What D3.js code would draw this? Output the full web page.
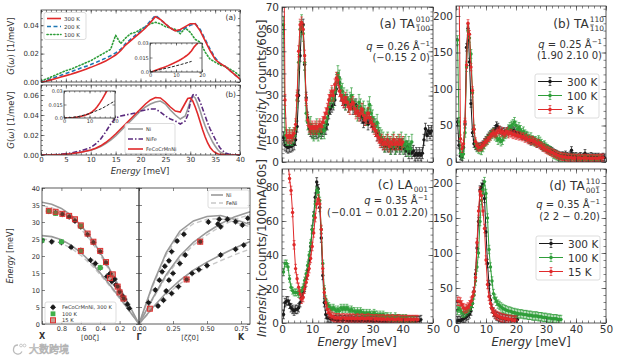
<!DOCTYPE html>
<html><head><meta charset="utf-8">
<script src="https://cdn.jsdelivr.net/npm/d3@7"></script>
<style>body{margin:0;background:#fff}svg{display:block}</style>
</head><body>
<script>
// ---------------- DATA ----------------
// Left (a): experimental phonon DOS
const dosE = [0,1,2,3,4,5,6,7,8,9,10,11,12,13,14,15,16,17,18,19,20,21,22,23,24,25,26,27,28,29,30,31,32,33,34,35,36,37,38,39,40];
const g300 = [0,0.0005,0.0015,0.0025,0.0035,0.0045,0.0055,0.0066,0.0078,0.009,0.0103,0.0117,0.0132,0.0148,0.0168,0.019,0.022,0.026,0.029,0.032,0.035,0.038,0.042,0.046,0.044,0.041,0.038,0.036,0.037,0.039,0.041,0.041,0.036,0.029,0.022,0.016,0.013,0.011,0.008,0.005,0.002];
const g200 = [0,0.001,0.0022,0.0035,0.0047,0.006,0.0072,0.0085,0.0098,0.011,0.0123,0.0137,0.0152,0.0168,0.0185,0.0205,0.023,0.027,0.03,0.033,0.036,0.039,0.043,0.047,0.044,0.041,0.038,0.036,0.036,0.038,0.04,0.041,0.037,0.03,0.023,0.017,0.013,0.011,0.008,0.005,0.002];
const g100 = [0.001,0.002,0.0035,0.005,0.0065,0.008,0.009,0.0105,0.012,0.0135,0.015,0.017,0.019,0.021,0.023,0.033,0.027,0.031,0.034,0.035,0.037,0.039,0.041,0.042,0.041,0.039,0.038,0.037,0.034,0.038,0.035,0.03,0.028,0.021,0.016,0.014,0.012,0.011,0.009,0.007,0.004];
const debyeAE = [0,4,8,12,16];
const debyeA = [0,0.0025,0.005,0.0078,0.011];
// Left (b): calculated DOS
const thE = [0,2,4,6,8,10,11,12,13,14,15,16,17,18,19,20,21,22,23,24,25,26,27,28,29,29.5,30,30.5,31,31.5,32,32.5,33,33.5,34,34.5,35,35.5,36,37,38,40];
const dosNi = [0,0.0001,0.0005,0.0013,0.0027,0.0048,0.0064,0.0085,0.0115,0.015,0.019,0.024,0.029,0.034,0.039,0.044,0.048,0.051,0.053,0.054,0.051,0.045,0.04,0.036,0.039,0.046,0.054,0.059,0.057,0.051,0.044,0.036,0.029,0.023,0.018,0.013,0.009,0.0055,0.003,0.0008,0.0002,0];
const dosNiFe = [0,0.0002,0.0008,0.002,0.0042,0.0075,0.011,0.016,0.023,0.031,0.037,0.039,0.04,0.041,0.042,0.044,0.045,0.046,0.046,0.043,0.039,0.036,0.034,0.031,0.034,0.04,0.052,0.06,0.061,0.058,0.053,0.046,0.039,0.032,0.026,0.021,0.016,0.011,0.007,0.002,0.0005,0];
const dosHEA = [0,0.0001,0.0005,0.0013,0.0027,0.005,0.0068,0.0092,0.0125,0.0165,0.021,0.026,0.031,0.036,0.041,0.046,0.051,0.055,0.0575,0.057,0.053,0.048,0.044,0.043,0.052,0.0565,0.057,0.054,0.048,0.041,0.033,0.025,0.018,0.012,0.0075,0.0045,0.0025,0.0013,0.0006,0.0001,0,0];
const debyeBE = [0,5,10,15,20];
const debyeB = [0,0.0012,0.0048,0.0108,0.019];

// Dispersion
const zetaL = [0,0.1,0.2,0.3,0.4,0.5,0.6,0.7,0.8,0.9,1];
const niLA_L = [0,5.5,10.8,16,21,25.5,29,32,34,35.2,35.8];
const niTA_L = [0,3.9,7.8,11.5,15,18.3,21,23.2,24.8,25.7,26];
const feniLA_L = [0,5.2,10.4,15.5,20.3,24.6,28,31,33,34.2,34.8];
const feniTA_L = [0,3.8,7.5,11.1,14.5,17.6,20.2,22.3,23.8,24.7,25];
const zetaR = [0,0.1,0.2,0.3,0.4,0.5,0.6,0.7,0.8,0.82];
const niLA_R = [0,11.5,21,27.3,30.3,31.6,31.9,30.8,29.5,29.3];
const niTA1_R = [0,7.5,14.5,20,24,27,29.5,31.5,32.8,33];
const niTA2_R = [0,4.8,9.2,12.8,15.8,18.2,20.3,22.3,24,24.3];
const feniLA_R = [0,11,20.4,26.5,29.5,30.8,31,30,28.8,28.6];
const feniTA1_R = [0,7.2,14,19.3,23.2,26.2,28.7,30.7,32,32.2];
const feniTA2_R = [0,4.5,8.6,11.8,14.6,16.8,18.6,20.3,21.8,22];
const d300L = [[1,24.5],[0.93,33.2],[0.9,24.2],[0.86,32.7],[0.79,32.3],[0.8,24],[0.72,31.5],[0.7,22.6],[0.66,30.3],[0.6,28.6],[0.6,21.6],[0.53,26.3],[0.5,18.8],[0.47,24],[0.45,17.8],[0.4,21.3],[0.4,16.5],[0.34,18],[0.33,14],[0.3,14.8],[0.28,12.5],[0.25,13.2],[0.24,11.5],[0.22,11],[0.2,9.5],[0.17,8.2],[0.15,7.3],[0.12,5.8],[0.1,4.6]];
const d100L = [[1,24.6],[0.93,33.2],[0.86,32.5],[0.8,24.2],[0.6,28.8],[0.6,21.6],[0.4,16.6]];
const d15L = [[0.93,33.3],[0.86,33],[0.79,32.4],[0.72,31.8],[0.66,30.8],[0.6,29],[0.6,21.5],[0.53,26.6],[0.47,24.2],[0.4,21.5],[0.34,18.2],[0.3,13.5],[0.27,14.6],[0.22,11],[0.2,9.3],[0.16,7.5]];
const d300R = [[0.07,6.3],[0.12,10],[0.15,12.9],[0.17,15.4],[0.19,17],[0.22,18.6],[0.24,21.3],[0.28,24.4],[0.33,26.4],[0.51,30],[0.58,29.4],[0.59,30.8],[0.65,30.8],[0.71,30.1],[0.76,29.1],[0.8,31.1],[0.2,9.7],[0.22,12.9],[0.25,14.9],[0.3,17.8],[0.34,20.3],[0.45,24.2],[0.6,28.6],[0.14,5.3],[0.18,7],[0.24,9],[0.29,11],[0.35,13.1],[0.39,14.9],[0.44,16],[0.5,17.2],[0.6,20.3],[0.71,22],[0.77,23.2]];
const d15R = [[0.08,4.5],[0.35,13.1],[0.45,24.2]];

// Right: INS spectra, energies shared by all four panels
const energies = [0.5,1,1.5,2,2.5,3,3.5,4,4.5,5,5.5,6,6.5,7,7.5,8,8.5,9,9.5,10,10.5,11,11.5,12,12.5,13,13.5,14,14.5,15,15.5,16,16.5,17,17.5,18,18.5,19,19.5,20,20.5,21,21.5,22,22.5,23,23.5,24,24.5,25,25.5,26,26.5,27,27.5,28,28.5,29,29.5,30,30.5,31,31.5,32,32.5,33,33.5,34,34.5,35,35.5,36,36.5,37,37.5,38,38.5,39,39.5,40,40.5,41,41.5,42,42.5,43,43.5,44,44.5,45,45.5,46,46.5,47,47.5,48,48.5,49,49.5];
const taA_300 = [11,7.5,7,6.5,7,7,7.5,8,10,16,30,48,61,62,44,29,20,15,14,13.5,13,14,13,13.5,14,13,14,15,15,17,22,24,25,26,28,33,38,36,30,28,27,26,28,25,26,27,24,25,26,23,22,21,20,18,19,20,17,20,18,16,17,14,12,13,10,9,8,7,8,7,8,6,7,8,6,7,8,6,7,8,6,5,7,4,6,4,5,3,4,3,4,3,4,10,15,12,14,13,14];
const taA_100 = [62,12,11,11,12,11,11,12,15,28,45,60,63,58,45,22,18,16,17,14,13,14,16,13,15,14,16,14,18,20,25,28,30,28,32,36,40,38,34,32,30,27,29,26,28,30,27,25,24,22,27,25,23,24,22,20,24,26,22,20,17,16,18,14,12,11,10,8,9,10,8,7,9,10,7,8,9,8,10,7,8,9,6,8,6,9];
const taA_3 = [120,28,12,11,12,11,12,13,17,30,50,62,63,60,48,28,19,16,15,16,15,16,15,16,17,16,18,20,22,24,28,30,32,30,35,38,37,32,30,28,27,29,27,25,24,26,27,24,22,23,21,22,24,21,19,20,22,20,18,17,15,14,12,11,9,10,8,9,8,10,7,9,8,10,8,9,8,10,8,9];
const taB_300 = [55,23,8,7,20,52,157,183,137,80,40,25,22,20,21,21,22,24,27,30,33,36,38,40,42,45,50,48,44,43,41,42,40,42,44,45,42,44,42,40,39,41,38,36,37,34,35,32,30,28,30,29,27,25,26,24,22,20,21,19,18,17,16,15,13,12,11,10,9,8,9,8,10,8,7,9,16,8,7,8,6,7,8,6,7,12,6,7,6,8,7,6,7,6,7,5,6,7,6];
const taB_100 = [167,55,12,9,11,40,130,180,170,148,95,45,25,20,18,17,16,20,24,28,30,33,36,38,40,36,34,30,32,28,30,35,38,40,45,48,50,52,55,50,45,48,44,40,42,38,36,35,32,34,30,28,29,27,30,28,25,22,23,20,18,16,15,13,11,10,9,8,7,6,6,5,6,5,4,5,4,5,4,5,3,4,3,4,3,4,3,3,4,3,4,3,4,3,4,3];
const taB_3 = [260,260,32,18,25,55,133,190,175,130,98,45,28,22,20,20,21,23,26,28,30,33,35,38,40,38,40,42,44,40,42,38,40,42,38,40,39,37,38,36,37,35,36,34,35,32,33,30,31,29,30,28,27,25,26,23,22,20,19,17,16,15,14,13,12,11,10,9,8,8,7,7,7,6,6,6,6,5,6,5,5,6,5,5,5,6,5,5,5,5,5,5,5,5,5,6,5,6];
const laC_300 = [5,12,13,13,11,9,8,7,8,8,9,12,15,18,21,26,31,37,45,55,63,74,83,79,68,50,28,12,5,3,3,2.5,2,2,2,2,1.5,2,2,1.5,2,2,1.5,2,1.5,2,1.5,1.5,2,1.5,1.5,1.5,2,1.5,1.5,1.5,1.5,1.5,1.5,1.5,1.2,1.5,1.5,1.2,1.5,1.2,1.2,1.5,1.2,1.2,1.5,1.2,1.5,1.2,1.5,2,1.5,1.2,1.5,1.5,1.2,1.5,1.5,1.5,1.5,1.5,1.5,1.5,1.5,1.5,1.5,2];
const laC_100 = [30,35,35,33,26,21,19,18,18,18,17,18,19,21,25,29,34,40,47,55,63,70,78,77,72,55,35,20,14,11,10,9,8,9,8,7,8,7,9,8,9,8,9,8,7,8,7,7,6,7,6,7,6,6,5,6,5,6,5,5,6,5,5,4,5,4,5,4,4,4,3,4,3,3,4,3,3,3,2,3,2,3,2,2,2,2,2,2];
const laC_15 = [250,150,110,95,85,78,65,46,32,26,21,17,14,15,20,24,28,32,38,45,53,62,70,73,70,55,32,18,12,8,6,5,4,3.5,3,3,3,3,2.5,3,3,2.5,3,2.5,3,2.5,3,2.5,2.5,3,2.5,2.5,3,2.5,2.5,2.5,3,2.5,2.5,2.5,2,2.5,2.5,2,2.5,2,2.5,2,2,2.5,2,2,2.5,2,2,2,2.5,2,2,2,2,2,2,2,2,2,2,2,2,2];
const taD_300 = [3,4,3,5,6,7,9,11,13,17,28,45,70,107,145,190,194,198,178,130,85,55,33,21,15,12,10,9,8,7,7,6,6,5,5,5,5,4,5,4,5];
const taD_100 = [18,21,18,15,14,15,17,19,21,24,28,40,60,80,100,145,175,190,202,185,150,105,80,60,42,35,31,27,25,23,21,20,19,18,17,17,16,15,15,14,14,13,13,13,12,12,12,11,11,11,10,10,10,10,9,9,9,8,8,8,7,7,7,6,6,6,6,5,5,5];
const taD_15 = [31,31,30,26,22,20,21,23,26,31,38,45,65,115,160,188,182,160,135,90,55,38,28,20,16,13,11,10,9,8,7,7,6,6,5,5,5,4,4,4];
// typical error bar half-widths [high T, mid T, low T]
const errA = [2.5,3.5,2.5], errB = [5,6,5], errC = [2.5,2,2.5], errD = [6,6,6];

// tick values
const ticksDosX = [0,5,10,15,20,25,30,35,40];
const ticksE = [0,10,20,30,40,50];

// ---------------- DRAWING ----------------
const FONT = "DejaVu Sans, sans-serif";
const INK = "#333";
const RED = "#e02a2b", GREEN = "#2f9e3a", BLACK = "#1a1a1a", BLUE = "#1f77b4", PURPLE = "#5a2a7e", GRAY = "#9a9a9a";
const svg = d3.select("body").append("svg").attr("width",627).attr("height",356).style("font-family",FONT);
let clipN = 0;

function frame(o){
  const x = d3.scaleLinear().domain(o.xd).range([o.x0,o.x1]);
  const y = d3.scaleLinear().domain(o.yd).range([o.y1,o.y0]);
  const g = svg.append("g");
  if (o.bg) g.append("rect").attr("x",o.x0).attr("y",o.y0).attr("width",o.x1-o.x0).attr("height",o.y1-o.y0).attr("fill","#fff");
  const id = "clip"+(clipN++);
  svg.append("clipPath").attr("id",id).append("rect").attr("x",o.x0).attr("y",o.y0).attr("width",o.x1-o.x0).attr("height",o.y1-o.y0);
  const plot = g.append("g").attr("clip-path",`url(#${id})`);
  const M = o.maj||3.5, m = o.min||2, fs = o.fs||7;
  function ax(gen, scale, vals, size, fmt, tr){
    if(!vals) return;
    const a = gen(scale).tickValues(vals).tickSizeInner(-size).tickSizeOuter(0).tickPadding(o.pad||2).tickFormat(fmt||(()=>""));
    const s = g.append("g").attr("transform",tr).call(a);
    s.select(".domain").remove();
    s.selectAll("line").attr("stroke",INK).attr("stroke-width",0.6);
    s.selectAll("text").attr("font-size",fs).attr("fill",INK).attr("font-family",FONT);
    s.selectAll("text").filter(function(){return !this.textContent;}).remove();
  }
  ax(d3.axisBottom,x,o.xMaj,M,o.xFmt,`translate(0,${o.y1})`);
  ax(d3.axisBottom,x,o.xMin,m,null,`translate(0,${o.y1})`);
  ax(d3.axisTop,x,o.xMaj,M,null,`translate(0,${o.y0})`);
  ax(d3.axisTop,x,o.xMin,m,null,`translate(0,${o.y0})`);
  ax(d3.axisLeft,y,o.yMaj,M,o.yFmt,`translate(${o.x0},0)`);
  ax(d3.axisLeft,y,o.yMin,m,null,`translate(${o.x0},0)`);
  ax(d3.axisRight,y,o.yMaj,M,null,`translate(${o.x1},0)`);
  ax(d3.axisRight,y,o.yMin,m,null,`translate(${o.x1},0)`);
  g.append("rect").attr("x",o.x0).attr("y",o.y0).attr("width",o.x1-o.x0).attr("height",o.y1-o.y0)
    .attr("fill","none").attr("stroke",INK).attr("stroke-width",0.8);
  return {x,y,g,plot};
}
function curve(p, xs, ys, color, w, dash, cap){
  const pts = ys.map((v,i)=>[xs[i],v]);
  const path = p.plot.append("path").attr("d",d3.line().x(d=>p.x(d[0])).y(d=>p.y(d[1]))(pts))
    .attr("fill","none").attr("stroke",color).attr("stroke-width",w);
  if(dash) path.attr("stroke-dasharray",dash);
  if(cap) path.attr("stroke-linecap",cap);
  return path;
}
function txt(x,y,s,fs,opt={}){
  const t = svg.append("text").attr("x",x).attr("y",y).attr("font-size",fs).attr("fill",opt.fill||INK)
    .attr("font-family",opt.family||FONT).attr("text-anchor",opt.anchor||"start");
  if(opt.rot) t.attr("transform",`rotate(${opt.rot},${x},${y})`);
  if(opt.weight) t.attr("font-weight",opt.weight);
  if(opt.style) t.attr("font-style",opt.style);
  if(typeof s === "string") t.text(s); else s(t);
  return t;
}
function legendBox(x,y,w,h){
  svg.append("rect").attr("x",x).attr("y",y).attr("width",w).attr("height",h).attr("rx",2)
    .attr("fill","#fff").attr("fill-opacity",0.85).attr("stroke","#cfcfcf").attr("stroke-width",0.7);
}

// ===== Left (a) =====
const pa = frame({x0:41,x1:240,y0:10,y1:82,xd:[0,40],yd:[0,0.0507],xMaj:ticksDosX,xMin:d3.range(0,41,1),
  yMaj:[0,0.02,0.04],yMin:d3.range(0,0.051,0.005),yFmt:d3.format(".2f"),fs:7});
curve(pa,dosE,g100,GREEN,1.6,"1.2,2.2","round");
curve(pa,dosE,g200,BLUE,1.6,"4,2.5");
curve(pa,dosE,g300,RED,1.6);
txt(236,20,"(a)",7.5,{anchor:"end"});
legendBox(44,12.5,42,27);
[["300 K",RED,null],["200 K",BLUE,"4,2.5"],["100 K",GREEN,"1.2,2.2"]].forEach((d,i)=>{
  const yy = 18.5+i*8;
  const l = svg.append("line").attr("x1",47).attr("x2",61).attr("y1",yy).attr("y2",yy).attr("stroke",d[1]).attr("stroke-width",1.6);
  if(d[2]) l.attr("stroke-dasharray",d[2]);
  if(i==2) l.attr("stroke-linecap","round");
  txt(64,yy+2,d[0],5.5);
});
// inset (a)
const ia = frame({x0:150,x1:202,y0:43,y1:72,xd:[0,20],yd:[0,0.03],xMaj:[0,10,20],xMin:d3.range(0,21,2),
  yMaj:[0,0.015,0.03],xFmt:d3.format("d"),yFmt:v=>v===0?"0.0":(v===0.015?"0.015":"0.03"),fs:5,maj:2.5,min:1.5,pad:1.2,bg:true});
curve(ia,dosE,g300,RED,1.6);
curve(ia,debyeAE,debyeA,"#222",1,"3,1.5");

// ===== Left (b) =====
const pb = frame({x0:41,x1:240,y0:85,y1:155,xd:[0,40],yd:[0,0.07],xMaj:ticksDosX,xMin:d3.range(0,41,1),
  yMaj:[0,0.02,0.04,0.06],yMin:d3.range(0,0.071,0.005),yFmt:d3.format(".2f"),xFmt:d3.format("d"),fs:7});
curve(pb,thE,dosNi,GRAY,1.6);
curve(pb,thE,dosNiFe,PURPLE,1.6,"5,2,1.5,2");
curve(pb,thE,dosHEA,RED,1.6);
txt(236,97,"(b)",7.5,{anchor:"end"});
legendBox(125,123.5,50,30);
[["Ni",GRAY,null],["NiFe",PURPLE,"5,2,1.5,2"],["FeCoCrMnNi",RED,null]].forEach((d,i)=>{
  const yy = 129+i*10;
  const l = svg.append("line").attr("x1",128).attr("x2",143).attr("y1",yy).attr("y2",yy).attr("stroke",d[1]).attr("stroke-width",1.6);
  if(d[2]) l.attr("stroke-dasharray",d[2]);
  txt(146,yy+2,d[0],5);
});
const ib = frame({x0:64,x1:115,y0:91,y1:118,xd:[0,20],yd:[0,0.03],xMaj:[0,10,20],xMin:d3.range(0,21,2),
  yMaj:[0,0.015,0.03],xFmt:d3.format("d"),yFmt:v=>v===0?"0.0":(v===0.015?"0.015":"0.03"),fs:5,maj:2.5,min:1.5,pad:1.2,bg:true});
curve(ib,thE,dosHEA,RED,1.6);
curve(ib,debyeBE,debyeB,"#222",1,"3,1.5");
// left labels
txt(14,46,t=>{t.append("tspan").attr("font-style","italic").text("G");t.append("tspan").text("(");t.append("tspan").attr("font-style","italic").text("ω");t.append("tspan").text(") [1/meV]");},8.5,{anchor:"middle",rot:-90});
txt(14,120,t=>{t.append("tspan").attr("font-style","italic").text("G");t.append("tspan").text("(");t.append("tspan").attr("font-style","italic").text("ω");t.append("tspan").text(") [1/meV]");},8.5,{anchor:"middle",rot:-90});
txt(140,174,t=>{t.append("tspan").attr("font-style","italic").text("Energy");t.append("tspan").text(" [meV]");},8.5,{anchor:"middle"});

// ===== Dispersion =====
const dl = frame({x0:42,x1:139,y0:188,y1:324,xd:[1,0],yd:[0,40],xMaj:[1,0.8,0.6,0.4,0.2,0],
  yMaj:[0,5,10,15,20,25,30,35,40],yFmt:d3.format("d"),xFmt:v=>(v===1||v===0)?"":d3.format(".1f")(v),fs:6.5,maj:3,pad:2});
const dr = frame({x0:139,x1:250,y0:188,y1:324,xd:[0,0.816],yd:[0,40],xMaj:[0,0.25,0.5,0.75],
  yMaj:[0,5,10,15,20,25,30,35,40],xFmt:d3.format(".2f"),fs:6.5,maj:3,pad:2});
const LIGHT = "#c8c8c8";
curve(dl,zetaL,feniLA_L,LIGHT,1.4,"5,3");
curve(dl,zetaL,feniTA_L,LIGHT,1.4,"5,3");
curve(dl,zetaL,niLA_L,GRAY,1.6);
curve(dl,zetaL,niTA_L,GRAY,1.6);
[feniLA_R,feniTA1_R,feniTA2_R].forEach(a=>curve(dr,zetaR,a,LIGHT,1.4,"5,3"));
[niLA_R,niTA1_R,niTA2_R].forEach(a=>curve(dr,zetaR,a,GRAY,1.6));
function dispPts(p, data, kind){
  const g = p.plot.append("g");
  data.forEach(d=>{
    const cx = p.x(d[0]), cy = p.y(d[1]);
    if(kind==="300"){
      g.append("line").attr("x1",cx).attr("x2",cx).attr("y1",cy-3).attr("y2",cy+3).attr("stroke",BLACK).attr("stroke-width",0.8);
      g.append("line").attr("x1",cx-3).attr("x2",cx+3).attr("y1",cy).attr("y2",cy).attr("stroke",BLACK).attr("stroke-width",0.8);
      g.append("circle").attr("cx",cx).attr("cy",cy).attr("r",2.2).attr("fill",BLACK);
    } else if(kind==="100"){
      g.append("rect").attr("x",cx-2.4).attr("y",cy-2.4).attr("width",4.8).attr("height",4.8).attr("fill","#3fb04a");
    } else {
      g.append("rect").attr("x",cx-2.5).attr("y",cy-2.5).attr("width",5).attr("height",5).attr("fill","#9a4a3c").attr("fill-opacity",0.55).attr("stroke","#e03030").attr("stroke-width",1);
    }
  });
}
dispPts(dl,d300L,"300"); dispPts(dl,d100L,"100"); dispPts(dl,d15L,"15");
dispPts(dr,d300R,"300"); dispPts(dr,d15R,"15");
// legends
legendBox(45,302,71,21);
txt(62,309,"FeCoCrMnNi, 300 K",5.2);
txt(62,315.5,"100 K",5.2);
txt(62,322,"15 K",5.2);
{ const fake={x:d3.scaleIdentity(),y:d3.scaleIdentity(),plot:svg.append("g")};
  dispPts(fake,[[53,307.3]],"300"); dispPts(fake,[[53,313.8]],"100"); dispPts(fake,[[53,320.3]],"15"); }
legendBox(208,190,41,18);
svg.append("line").attr("x1",211).attr("x2",223).attr("y1",195).attr("y2",195).attr("stroke",GRAY).attr("stroke-width",1.6);
svg.append("line").attr("x1",211).attr("x2",223).attr("y1",203).attr("y2",203).attr("stroke",LIGHT).attr("stroke-width",1.4).attr("stroke-dasharray","5,3");
txt(226,197,"Ni",5.2); txt(226,205,"FeNi",5.2);
txt(42,339,"X",8,{anchor:"middle",weight:"bold"});
txt(90,340,"[00ζ]",7,{anchor:"middle"});
txt(139,340,"Γ",8,{anchor:"middle",weight:"bold"});
txt(190,340,"[ζζ0]",7,{anchor:"middle"});
txt(241,340,"K",8,{anchor:"middle",weight:"bold"});
txt(13,256,t=>{t.append("tspan").attr("font-style","italic").text("Energy");t.append("tspan").text(" [meV]");},8,{anchor:"middle",rot:-90});

// ===== Right panels =====
function rPanel(o){ return frame(Object.assign({xd:[0,50],xMaj:ticksE,xMin:d3.range(0,51,2),fs:10.5,maj:4.5,min:2.5,pad:3},o)); }
const rA = rPanel({x0:282,x1:433,y0:7,y1:162,yd:[0,70],yMaj:[0,10,20,30,40,50,60,70],yMin:d3.range(0,71,2),yFmt:d3.format("d")});
const rB = rPanel({x0:456,x1:606,y0:6,y1:162,yd:[0,213.7],yMaj:[0,50,100,150,200],yMin:d3.range(0,211,10),yFmt:d3.format("d")});
const rC = rPanel({x0:282,x1:433,y0:169,y1:323,yd:[0,90.6],yMaj:[0,20,40,60,80],yMin:d3.range(0,91,4),yFmt:d3.format("d"),xFmt:d3.format("d")});
const rD = rPanel({x0:456,x1:606,y0:169,y1:323,yd:[0,220],yMaj:[0,50,100,150,200],yMin:d3.range(0,221,10),yFmt:d3.format("d"),xFmt:d3.format("d")});
function series(p, vals, color, err){
  const pts = [];
  vals.forEach((v,i)=>{ if(v!=null) pts.push([energies[i],v]); });
  p.plot.append("path").attr("d",d3.line().x(d=>p.x(d[0])).y(d=>p.y(d[1]))(pts))
    .attr("fill","none").attr("stroke",color).attr("stroke-width",1);
  const eg = p.plot.append("g").attr("stroke",color).attr("stroke-width",0.7);
  pts.forEach(d=>{
    const cx = p.x(d[0]), ya = p.y(d[1]-err), yb = p.y(d[1]+err);
    eg.append("line").attr("x1",cx).attr("x2",cx).attr("y1",ya).attr("y2",yb);
    eg.append("line").attr("x1",cx-1.4).attr("x2",cx+1.4).attr("y1",ya).attr("y2",ya);
    eg.append("line").attr("x1",cx-1.4).attr("x2",cx+1.4).attr("y1",yb).attr("y2",yb);
  });
  p.plot.append("g").selectAll("circle").data(pts).join("circle")
    .attr("cx",d=>p.x(d[0])).attr("cy",d=>p.y(d[1])).attr("r",1.7).attr("fill",color);
}
series(rA,taA_300,BLACK,errA[0]); series(rA,taA_100,GREEN,errA[1]); series(rA,taA_3,RED,errA[2]);
series(rB,taB_300,BLACK,errB[0]); series(rB,taB_100,GREEN,errB[1]); series(rB,taB_3,RED,errB[2]);
series(rC,laC_300,BLACK,errC[0]); series(rC,laC_100,GREEN,errC[1]); series(rC,laC_15,RED,errC[2]);
series(rD,taD_300,BLACK,errD[0]); series(rD,taD_100,GREEN,errD[1]); series(rD,taD_15,RED,errD[2]);

// titles with super/subscripts
function title(xEnd, y, main, sup, sub, bar){
  const scr = 7.5;
  const w = Math.max(sup?sup.length:0, sub?sub.length:0)*0.636*scr;
  txt(xEnd - w - 1, y, main, 12, {anchor:"end"});
  if(sup) txt(xEnd - w, y-6, sup, scr);
  if(sub){
    txt(xEnd - w, y+3, sub, scr);
    if(bar!=null){
      const bx = xEnd - w + bar*0.636*scr;
      svg.append("line").attr("x1",bx+0.6).attr("x2",bx+0.636*scr-0.6).attr("y1",y-3.2).attr("y2",y-3.2).attr("stroke",INK).attr("stroke-width",0.6);
    }
  }
}
function qline(xEnd,y,q){
  txt(xEnd,y,t=>{t.append("tspan").attr("font-style","italic").text("q");t.append("tspan").text(" = "+q+" Å");t.append("tspan").attr("font-size",7).attr("dy",-4).text("−1");},10,{anchor:"end"});
}
title(430,28,"(a) TA","010","100",0);
qline(430,50,"0.26"); txt(430,61,"(−0.15 2 0)",10,{anchor:"end"});
title(604,28,"(b) TA","110","110",0);
qline(602,48,"0.25"); txt(602,59,"(1.90 2.10 0)",10,{anchor:"end"});
title(428,189,"(c) LA",null,"001",null);
qline(428,204,"0.35"); txt(428,216,"(−0.01 − 0.01 2.20)",10,{anchor:"end"});
title(600,190,"(d) TA","110","001",2);
qline(600,208,"0.35"); txt(600,220,"(2 2 − 0.20)",10,{anchor:"end"});

// right legends
function rLegend(x,y,labels){
  legendBox(x,y,64,44);
  [BLACK,GREEN,RED].forEach((c,i)=>{
    const yy = y+7.5+i*14;
    svg.append("line").attr("x1",x+3).attr("x2",x+27).attr("y1",yy).attr("y2",yy).attr("stroke",c).attr("stroke-width",1);
    svg.append("line").attr("x1",x+15).attr("x2",x+15).attr("y1",yy-4).attr("y2",yy+4).attr("stroke",c).attr("stroke-width",0.7);
    svg.append("line").attr("x1",x+13.6).attr("x2",x+16.4).attr("y1",yy-4).attr("y2",yy-4).attr("stroke",c).attr("stroke-width",0.7);
    svg.append("line").attr("x1",x+13.6).attr("x2",x+16.4).attr("y1",yy+4).attr("y2",yy+4).attr("stroke",c).attr("stroke-width",0.7);
    svg.append("circle").attr("cx",x+15).attr("cy",yy).attr("r",1.8).attr("fill",c);
    txt(x+32,yy+4,labels[i],10.5);
  });
}
rLegend(535,74,["300 K","100 K","3 K"]);
rLegend(536,236,["300 K","100 K","15 K"]);

// axis labels
txt(266,85,t=>{t.append("tspan").attr("font-style","italic").text("Intensity");t.append("tspan").text(" [counts/60s]");},12,{anchor:"middle",rot:-90});
txt(266,248,t=>{t.append("tspan").attr("font-style","italic").text("Intensity");t.append("tspan").text(" [counts/100mA/60s]");},12,{anchor:"middle",rot:-90});
txt(357,346,t=>{t.append("tspan").attr("font-style","italic").text("Energy");t.append("tspan").text(" [meV]");},11.5,{anchor:"middle"});
txt(531,346,t=>{t.append("tspan").attr("font-style","italic").text("Energy");t.append("tspan").text(" [meV]");},11.5,{anchor:"middle"});

// watermark
svg.append("path").attr("d","M18,345 a4.5,4.5 0 1,0 4,6.5").attr("fill","none").attr("stroke","#bbb").attr("stroke-width",1.3);
svg.append("circle").attr("cx",21).attr("cy",345.5).attr("r",1.4).attr("fill","none").attr("stroke","#bbb").attr("stroke-width",0.8);
svg.append("circle").attr("cx",24.5).attr("cy",345.5).attr("r",1.4).attr("fill","none").attr("stroke","#bbb").attr("stroke-width",0.8);
txt(29,353,"大数跨境",10,{family:"Noto Sans CJK SC",fill:"#fff"}).attr("stroke","#b5b5b5").attr("stroke-width",0.7);
</script></body></html>
